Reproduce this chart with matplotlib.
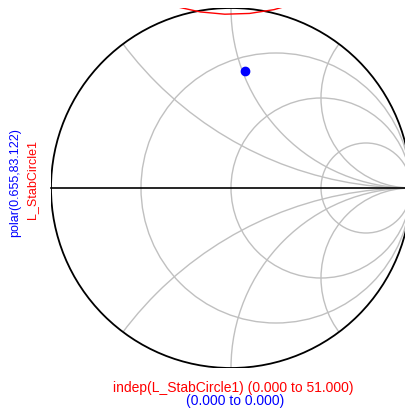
import numpy as np
import matplotlib
matplotlib.use("Agg")
import matplotlib.pyplot as plt
from matplotlib.patches import Circle

plt.rcParams['font.family'] = ['Liberation Sans', 'DejaVu Sans']

# Smith chart grid values
R_VALUES = [1/3, 1.0, 3.0]
X_VALUES = [0.5, 1.0, 2.0]

# load stability circle (center on the Gamma plane, radius), 51 sweep points
STAB_CENTER = (0.0, 2.08)
STAB_RADIUS = 1.115
STAB_POINTS = 52

# reflection coefficient marker: polar(mag, angle in degrees)
GAMMA_MAG = 0.655
GAMMA_ANG = 83.122

W, H = 405, 410
fig = plt.figure(figsize=(W / 100, H / 100), dpi=100)
# chart square: left edge at 51 px, diameter 360 px (runs past the right edge)
ax = fig.add_axes([51 / W, (H - 369) / H, 360 / W, 360 / H])
ax.set_xlim(-1, 1)
ax.set_ylim(-1, 1)
ax.set_aspect('equal')
ax.axis('off')

unit = Circle((0, 0), 1, transform=ax.transData, fill=False)
grid_col = '#c0c0c0'

# constant-resistance circles
for r in R_VALUES:
    c = Circle((r / (1 + r), 0), 1 / (1 + r), fill=False, ec=grid_col, lw=1)
    ax.add_patch(c)

# constant-reactance arcs, clipped to the unit circle
for x in X_VALUES:
    for s in (1, -1):
        c = Circle((1, s / x), 1 / x, fill=False, ec=grid_col, lw=1)
        ax.add_patch(c)
        c.set_clip_path(unit)

# outer boundary and real axis
ax.add_patch(Circle((0, 0), 1, fill=False, ec='black', lw=1.3))
ax.plot([-1, 1.05], [0, 0], color='black', lw=1.2, clip_on=False)

# stability circle
t = np.linspace(0, 2 * np.pi, STAB_POINTS)
ax.plot(STAB_CENTER[0] + STAB_RADIUS * np.cos(t),
        STAB_CENTER[1] + STAB_RADIUS * np.sin(t), color='red', lw=1)

# marker
g = GAMMA_MAG * np.exp(1j * np.deg2rad(GAMMA_ANG))
ax.plot([g.real], [g.imag], 'o', color='blue', ms=6, clip_on=False)

# labels
fig.text(15 / W, 1 - 183 / H, f"polar({GAMMA_MAG},{GAMMA_ANG})", color='blue',
         rotation=90, ha='center', va='center', fontsize=9)
fig.text(32 / W, 1 - 180 / H, "L_StabCircle1", color='red',
         rotation=90, ha='center', va='center', fontsize=9)
fig.text(233 / W, 1 - 388 / H, "indep(L_StabCircle1) (0.000 to 51.000)",
         color='red', ha='center', va='center', fontsize=10)
fig.text(235 / W, 1 - 401 / H, "(0.000 to 0.000)",
         color='blue', ha='center', va='center', fontsize=10)

fig.savefig('out.png', dpi=100)
